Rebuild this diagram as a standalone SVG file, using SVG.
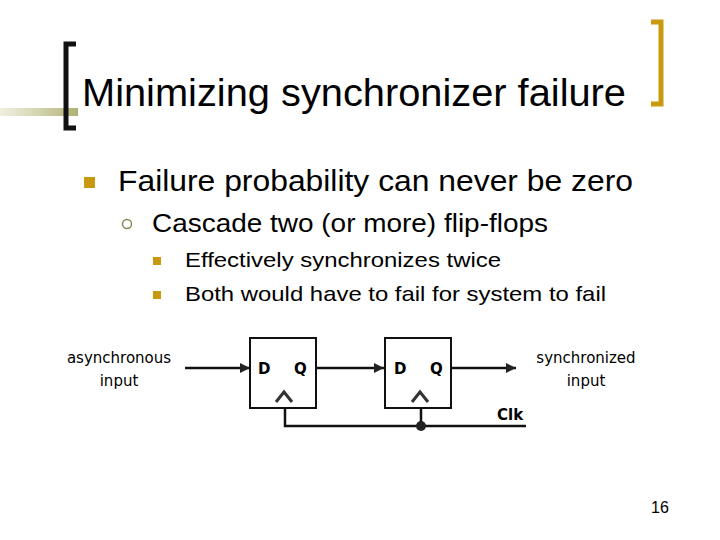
<svg xmlns="http://www.w3.org/2000/svg" width="720" height="540" viewBox="0 0 720 540">
<defs>
<linearGradient id="bar" x1="0" x2="1" y1="0" y2="0"><stop offset="0" stop-color="#c8c898" stop-opacity="0.3"/><stop offset="1" stop-color="#b0b070"/></linearGradient>
<marker id="ar" viewBox="0 0 10 10" refX="10" refY="5" markerWidth="5" markerHeight="4" orient="auto"><path d="M0,0L10,5L0,10z" fill="#222"/></marker>
<style>
.t{font-family:"Liberation Sans",Arial,sans-serif;fill:#000}
.d{font-family:"DejaVu Sans",sans-serif;fill:#000}
.b{fill:#c8990f}
.w{stroke:#111;stroke-width:2.5;fill:none}
.box{stroke:#111;stroke-width:2;fill:#fff}
</style>
</defs>
<rect width="720" height="540" fill="#fff"/>
<g id="title">
<rect x="0" y="108" width="78" height="8" fill="url(#bar)"/>
<path d="M76,44H66V128H76" fill="none" stroke="#111" stroke-width="5"/>
<path d="M651,22H661V104H651" fill="none" stroke="#c9990f" stroke-width="5"/>
<text class="t" x="82" y="106" font-size="38" textLength="544" lengthAdjust="spacingAndGlyphs">Minimizing synchronizer failure</text>
</g>
<g id="bullets">
<rect class="b" x="84" y="177" width="11" height="11"/>
<text class="t" x="118" y="191" font-size="29" textLength="515" lengthAdjust="spacingAndGlyphs">Failure probability can never be zero</text>
<circle cx="127" cy="224" r="4.5" fill="none" stroke="#8a8a50" stroke-width="1.5"/>
<text class="t" x="152" y="232" font-size="25" textLength="396" lengthAdjust="spacingAndGlyphs">Cascade two (or more) flip-flops</text>
<rect class="b" x="153" y="257" width="8" height="8"/>
<text class="t" x="185" y="267" font-size="21" textLength="316" lengthAdjust="spacingAndGlyphs">Effectively synchronizes twice</text>
<rect class="b" x="153" y="291" width="8" height="8"/>
<text class="t" x="185" y="301" font-size="21" textLength="421" lengthAdjust="spacingAndGlyphs">Both would have to fail for system to fail</text>
</g>
<g id="connectors">
<line class="w" x1="185" y1="368" x2="250" y2="368" marker-end="url(#ar)"/>
<line class="w" x1="316" y1="368" x2="384" y2="368" marker-end="url(#ar)"/>
<line class="w" x1="451" y1="368" x2="516" y2="368" marker-end="url(#ar)"/>
<path class="w" d="M285,408V426H526"/>
<line class="w" x1="421" y1="408" x2="421" y2="426"/>
<circle cx="421" cy="426" r="5" fill="#222"/>
</g>
<g id="ff1">
<rect class="box" x="250" y="338" width="66" height="70"/>
<text class="d" x="258" y="374" font-size="15" font-weight="bold">D</text>
<text class="d" x="294" y="374" font-size="15" font-weight="bold">Q</text>
<path d="M276,402L284,392L292,402" fill="none" stroke="#333" stroke-width="3"/>
</g>
<g id="ff2">
<rect class="box" x="385" y="338" width="66" height="70"/>
<text class="d" x="394" y="374" font-size="15" font-weight="bold">D</text>
<text class="d" x="430" y="374" font-size="15" font-weight="bold">Q</text>
<path d="M412,402L420,392L428,402" fill="none" stroke="#333" stroke-width="3"/>
</g>
<g id="labels">
<text class="d" x="119" y="363" font-size="15" text-anchor="middle">asynchronous</text>
<text class="d" x="119" y="386" font-size="15" text-anchor="middle">input</text>
<text class="d" x="586" y="363" font-size="15" text-anchor="middle">synchronized</text>
<text class="d" x="586" y="386" font-size="15" text-anchor="middle">input</text>
<text class="d" x="497" y="420" font-size="15" font-weight="bold">Clk</text>
<text class="t" x="651" y="513" font-size="16">16</text>
</g>
</svg>
